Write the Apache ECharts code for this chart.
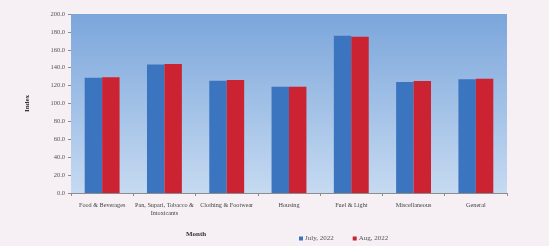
<!DOCTYPE html>
<html><head><meta charset="utf-8">
<script src="https://cdn.jsdelivr.net/npm/echarts@6/dist/echarts.min.js"></script>
<style>html,body{margin:0;padding:0;background:#f6f0f4;}#c{width:549px;height:246px;}</style>
</head><body><div id="c"></div>
<script>
const categories = ["Food & Beverages", "Pan, Supari, Tobacco &\nIntoxicants", "Clothing & Footwear", "Housing", "Fuel & Light", "Miscellaneous", "General"];
const july2022 = [128.9, 143.6, 125.5, 118.8, 175.8, 124.0, 127.0];
const aug2022 = [129.4, 144.2, 126.3, 118.8, 174.7, 125.1, 127.7];
const seriesNames = ["July, 2022", "Aug, 2022"];

const chart = echarts.init(document.getElementById('c'), null, {renderer: 'canvas'});
const font = '"Liberation Serif", "DejaVu Serif", serif';
chart.setOption({
  animation: false,
  backgroundColor: '#f6f0f4',
  textStyle: {fontFamily: font},
  grid: {
    left: 71, top: 14, width: 436, height: 179,
    show: true, borderWidth: 0,
    backgroundColor: new echarts.graphic.LinearGradient(0, 0, 0, 1, [
      {offset: 0, color: '#7ba6db'},
      {offset: 1, color: '#c6daf1'}
    ])
  },
  legend: {
    data: seriesNames,
    left: 294, top: 230,
    icon: 'rect', itemWidth: 4, itemHeight: 4, itemGap: 19,
    textStyle: {fontFamily: font, fontSize: 7, color: '#555', padding: [0, 0, 0, -3]}
  },
  xAxis: {
    type: 'category', data: categories,
    name: 'Month', nameLocation: 'middle', nameGap: 38,
    nameTextStyle: {fontFamily: font, fontSize: 7, fontWeight: 'bold', color: '#333', padding: [0, 186, 0, 0]},
    axisLine: {lineStyle: {color: '#8c8c8c', width: 1}},
    axisTick: {show: true, length: 3, lineStyle: {color: '#8c8c8c'}},
    axisLabel: {fontFamily: font, fontSize: 6.2, color: '#444', margin: 8, interval: 0, lineHeight: 8}
  },
  yAxis: {
    type: 'value', min: 0, max: 200, interval: 20,
    name: 'Index', nameLocation: 'middle', nameGap: 40, nameRotate: 90,
    nameTextStyle: {fontFamily: font, fontSize: 7, fontWeight: 'bold', color: '#333'},
    axisLine: {show: false},
    axisTick: {show: true, length: 3, lineStyle: {color: '#8c8c8c'}},
    splitLine: {show: false},
    axisLabel: {fontFamily: font, fontSize: 6.5, color: '#555', margin: 6, formatter: v => v.toFixed(1)}
  },
  series: [
    {name: seriesNames[0], type: 'bar', data: july2022, barGap: '0%', barCategoryGap: '44%', itemStyle: {color: '#3b75c0'}},
    {name: seriesNames[1], type: 'bar', data: aug2022, itemStyle: {color: '#cb2331'}}
  ]
});
</script></body></html>
